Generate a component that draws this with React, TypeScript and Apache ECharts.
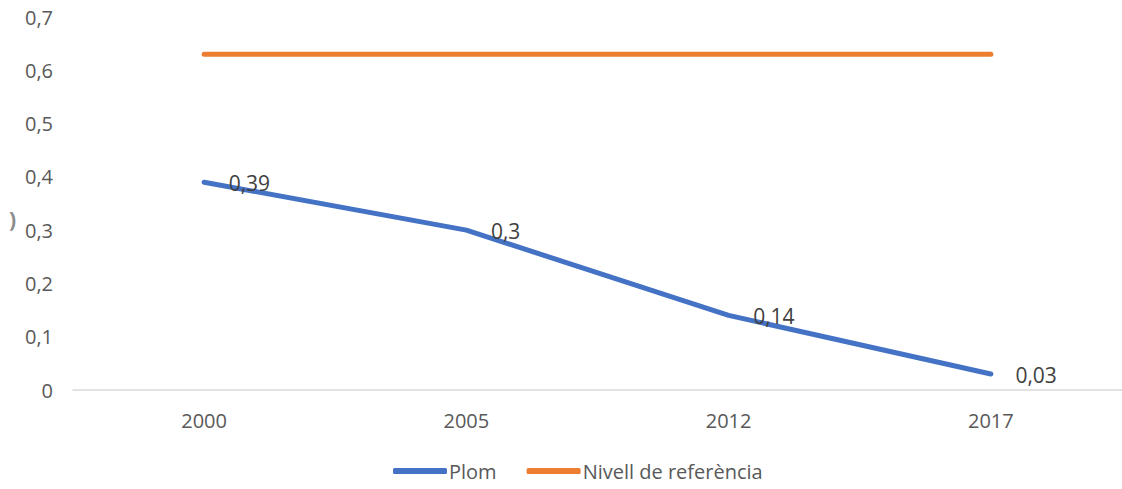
import React, { useEffect, useRef } from "react";
import * as echarts from "echarts";

const categories = ["2000", "2005", "2012", "2017"];
const plom = [0.39, 0.3, 0.14, 0.03];
const referencia = [0.63, 0.63, 0.63, 0.63];
const yTicks = [0, 0.1, 0.2, 0.3, 0.4, 0.5, 0.6, 0.7];

const fmt = (v: number) => String(v).replace(".", ",");

export default function App() {
  const ref = useRef<HTMLDivElement>(null);
  useEffect(() => {
    if (!ref.current) return;
    const chart = echarts.init(ref.current, null, { renderer: "svg" });
    const font = "'Open Sans', 'Noto Sans', sans-serif";
    chart.setOption({
      animation: false,
      backgroundColor: "#ffffff",
      textStyle: { fontFamily: font },
      grid: { left: 73, top: 17, width: 1060, bottom: 99, containLabel: false },
      legend: {
        bottom: 3,
        left: 388,
        itemWidth: 54,
        itemHeight: 6,
        itemGap: 30,
        icon: "roundRect",
        textStyle: { fontSize: 20, color: "#595959", fontFamily: font, padding: [0, 0, 0, -3] },
        data: ["Plom", "Nivell de referència"],
      },
      xAxis: {
        type: "category",
        data: categories,
        boundaryGap: true,
        axisLine: { lineStyle: { color: "#d9d9d9", width: 1.5 } },
        axisTick: { show: false },
        axisLabel: { fontSize: 20, color: "#595959", margin: 20, fontFamily: font },
      },
      yAxis: {
        type: "value",
        min: yTicks[0],
        max: yTicks[yTicks.length - 1],
        interval: 0.1,
        splitLine: { show: false },
        axisLine: { show: false },
        axisTick: { show: false },
        axisLabel: {
          fontSize: 20,
          color: "#595959",
          margin: 20,
          fontFamily: font,
          formatter: (v: number) => fmt(Math.round(v * 10) / 10),
        },
      },
      series: [
        {
          name: "Plom",
          type: "line",
          data: plom,
          symbol: "circle",
          symbolSize: 1,
          showSymbol: true,
          lineStyle: { color: "#4472C4", width: 5, cap: "round" },
          itemStyle: { color: "#4472C4" },
          label: {
            show: true,
            position: "right",
            distance: 24,
            offset: [0, 1],
            fontSize: 21,
            color: "#404040",
            fontFamily: font,
            formatter: (p: any) => fmt(p.value),
          },
          z: 3,
        },
        {
          name: "Nivell de referència",
          type: "line",
          data: referencia,
          symbol: "none",
          lineStyle: { color: "#ED7D31", width: 5, cap: "round" },
          itemStyle: { color: "#ED7D31" },
          z: 2,
        },
      ],
      graphic: [
        {
          type: "text",
          left: 9,
          top: 208,
          style: { text: ")", fontSize: 21, fontWeight: "bold", fill: "#8c8c8c", fontFamily: font },
        },
      ],
    });
    return () => chart.dispose();
  }, []);
  return (
    <div
      ref={ref}
      style={{ position: "absolute", left: 0, top: 0, width: 1122, height: 489 }}
    />
  );
}
